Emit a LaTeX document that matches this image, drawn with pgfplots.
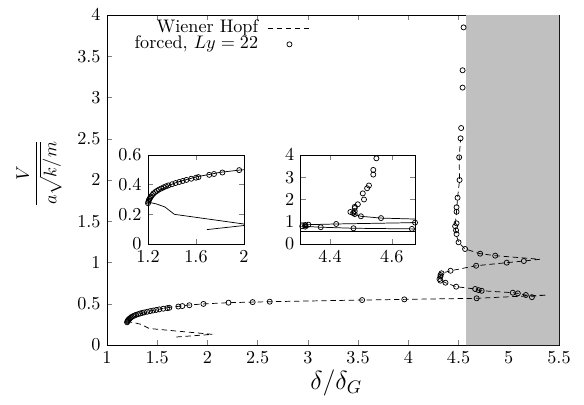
\documentclass[border=0pt]{standalone}
\usepackage{pgfplots}
\usepackage{pgfplotstable}
\usepackage{amsmath}
\pgfplotsset{compat=1.18}
\definecolor{shade}{RGB}{192,192,192}
\pgfplotsset{
  lineleg/.style={legend image code/.code={\draw[##1] (0pt,0pt) -- (24pt,0pt);}},
  markleg/.style={legend image code/.code={\draw[##1] plot coordinates {(12pt,0pt)};}},
}

\pgfplotstableread{
x y
1.69 0.097
2.05 0.129
1.42 0.20
1.34 0.25
1.27 0.27
1.215 0.28
1.217 0.29
1.245 0.32
1.30 0.364
1.37 0.393
1.44 0.416
1.51 0.432
1.61 0.454
1.72 0.47
1.80 0.483
1.96 0.498
2.21 0.513
2.45 0.52
2.62 0.525
3.54 0.545
3.96 0.553
4.68 0.566
5.38 0.606
5.23 0.59
5.17 0.606
5.09 0.626
5.04 0.634
4.715 0.659
4.665 0.679
4.476 0.707
4.37 0.755
4.31 0.796
4.32 0.848
4.33 0.869
4.42 0.90
4.675 0.961
4.98 0.998
5.15 1.018
5.31 1.039
4.865 1.083
4.715 1.107
4.565 1.164
4.50 1.245
4.475 1.345
4.466 1.44
4.48 1.62
4.49 1.78
4.51 2.0
4.506 2.275
4.52 2.49
}\mainline

\pgfplotstableread{
x y
1.200 0.275
1.203 0.285
1.207 0.295
1.212 0.303
1.218 0.312
1.225 0.320
1.235 0.330
1.245 0.340
1.26 0.350
1.275 0.358
1.29 0.366
1.31 0.374
1.33 0.382
1.35 0.389
1.37 0.395
1.40 0.403
1.43 0.411
1.46 0.418
1.49 0.425
1.52 0.432
1.56 0.440
1.60 0.447
1.62 0.451
1.71 0.466
1.75 0.472
1.82 0.482
1.96 0.498
2.21 0.513
2.45 0.52
2.62 0.525
3.54 0.545
3.96 0.553
4.68 0.566
5.23 0.58
5.17 0.606
5.09 0.626
5.04 0.634
4.73 0.657
4.70 0.665
4.665 0.679
4.476 0.707
4.37 0.755
4.32 0.78
4.31 0.80
4.32 0.83
4.32 0.848
4.33 0.869
4.42 0.90
4.675 0.961
4.98 0.998
5.15 1.018
4.865 1.083
4.715 1.107
4.565 1.164
4.50 1.245
4.48 1.345
4.475 1.39
4.466 1.44
4.48 1.475
4.48 1.615
4.48 1.67
4.49 1.785
4.51 2.0
4.506 2.275
4.52 2.505
4.526 2.63
4.54 3.12
4.54 3.33
4.55 3.85
}\circles

\begin{document}
\begin{tikzpicture}
\begin{axis}[
  scale only axis, width=248.6pt, height=181.5pt,
  xmin=1, xmax=5.5, ymin=0, ymax=4,
  xtick={1,1.5,...,5.5}, ytick={0,0.5,...,4},
  tick align=inside, major tick length=2.8pt,
  xlabel={\Large$\delta/\delta_G$},
  ylabel={$\dfrac{V}{a\sqrt{k/m}}$},
  xlabel style={at={(axis description cs:0.507,-0.115)}, anchor=center},
  ylabel style={at={(axis description cs:-0.15,0.52)}, anchor=center},
  legend plot pos=right,
  legend style={draw=none, fill=none, inner sep=0pt, at={(0.4535,0.985)}, anchor=north east,
    cells={anchor=east}, column sep=5pt,
    nodes={inner sep=0pt, text height=6.8pt, text depth=2pt}},
]
\addplot[fill=shade, draw=none, forget plot] coordinates {(4.575,0) (5.5,0) (5.5,4) (4.575,4) (4.575,0)};
\addplot[densely dashed, black, thin, lineleg] table {\mainline};
\addlegendentry{Wiener Hopf}
\addplot[only marks, mark=o, mark size=1.4pt, black, markleg] table {\circles};
\addlegendentry{forced, $Ly=22$}
\end{axis}

\begin{axis}[
  at={(22.55pt,55.55pt)}, anchor=south west,
  scale only axis, width=52.8pt, height=48.95pt,
  xmin=1.2, xmax=2, ymin=0, ymax=0.6,
  xtick={1.2,1.6,2}, ytick={0,0.2,0.4,0.6},
  tick align=inside, major tick length=2.8pt,
  axis background/.style={fill=white},
]
\addplot[black, thin] table {\mainline};
\addplot[only marks, mark=o, mark size=1.4pt, black] table {\circles};
\end{axis}

\begin{axis}[
  at={(106.5pt,55.55pt)}, anchor=south west,
  scale only axis, width=62.9pt, height=48.95pt,
  xmin=4.305, xmax=4.675, ymin=0, ymax=4,
  xtick={4.4,4.6}, ytick={0,1,2,3,4},
  tick align=inside, major tick length=2.8pt,
  axis background/.style={fill=white},
]
\addplot[black, thin, restrict y to domain=0:1.45] table {\mainline};
\addplot[only marks, mark=o, mark size=1.4pt, black] table {\circles};
\end{axis}

\path (-58.85pt,-32.45pt) rectangle (262.35pt,189.75pt);
\end{tikzpicture}
\end{document}
